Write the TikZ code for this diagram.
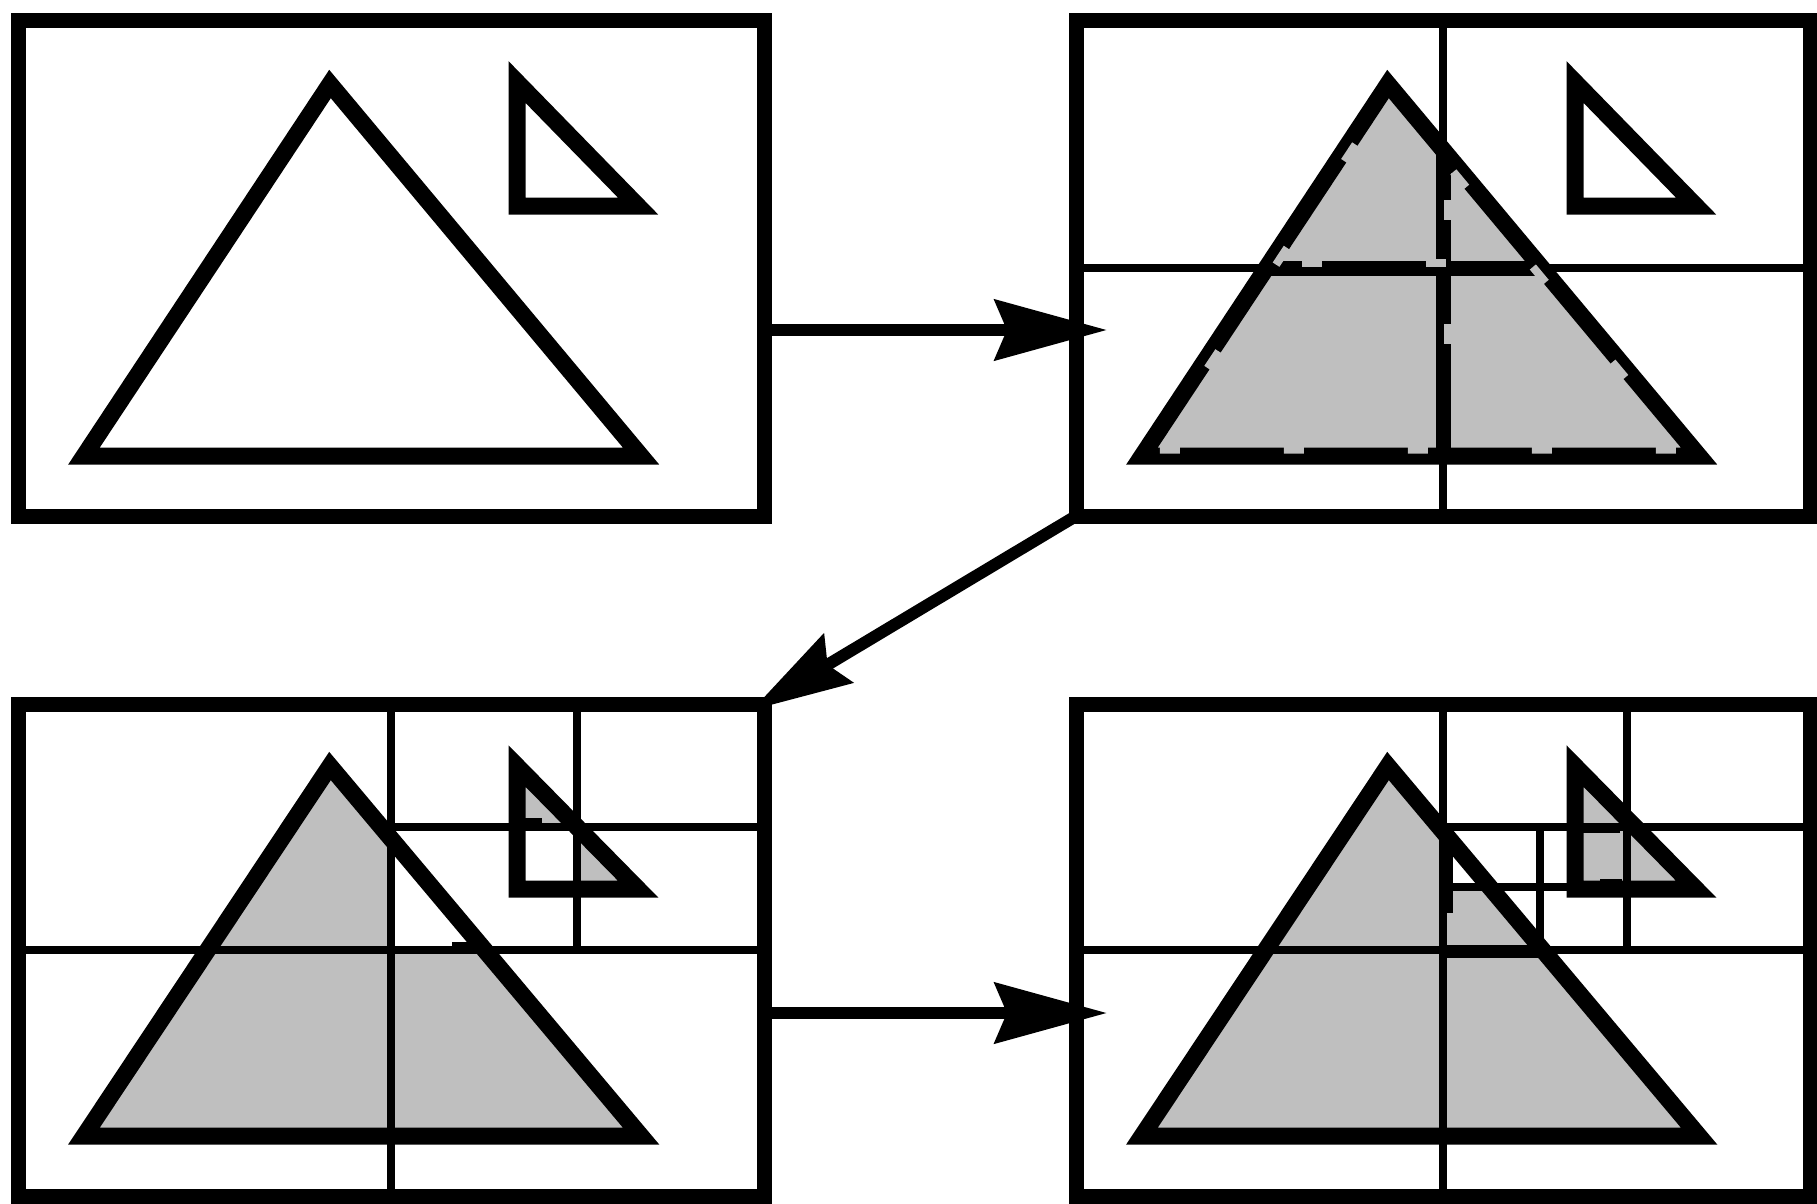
\documentclass[tikz,border=0pt]{standalone}
\usetikzlibrary{arrows.meta}
\begin{document}
\begin{tikzpicture}[x=1pt,y=-1pt,
  frame/.style={line width=15pt},
  gridline/.style={line width=8.5pt},
  tri/.style={line width=17pt, line join=miter},
  shade/.style={fill=black!25},
  notch/.style={draw=black!25, line width=8pt, dash pattern=on 20pt off 104pt},
  tabline/.style={line width=12pt},
  conn/.style={line width=12pt, -{Stealth[length=112pt,width=60pt,inset=12pt]}},
  panel/.style={inner sep=0pt, outer sep=0pt}]
\useasboundingbox (0,0) rectangle (1817,1203);
\fill[white] (0,0) rectangle (1817,1203);

% panel placeholders
\node[panel, minimum width=746pt, minimum height=496pt] (p1) at (391,268) {};
\node[panel, minimum width=734pt, minimum height=496pt] (p2) at (1443,268) {};
\node[panel, minimum width=746pt, minimum height=492pt] (p3) at (391,950) {};
\node[panel, minimum width=734pt, minimum height=492pt] (p4) at (1443,950) {};

% ---------- panel 1 ----------
\draw[tri] (330,84) -- (84,456) -- (641,456) -- cycle;
\draw[tri] (517,82) -- (517,206) -- (638,206) -- cycle;

% ---------- panel 2 ----------
\fill[shade] (1388,84) -- (1142,456) -- (1699,456) -- cycle;
\draw[gridline] (p2.north) -- (p2.south);
\draw[gridline] (p2.west) -- (p2.east);
\draw[line width=15pt] (1443,150) -- (1443,456);
\draw[line width=15pt] (1266,268) -- (1542,268);
\draw[tri] (1388,84) -- (1142,456) -- (1699,456) -- cycle;
\draw[notch, dash phase=-60pt, scale around={0.955:(1401,316.7)}]
  (1388,84) -- (1142,456) -- (1699,456) -- cycle;
\draw[notch, dash phase=-40pt] (1448,160) -- (1448,448);
\draw[notch, dash phase=-30pt] (1272,263) -- (1536,263);
\draw[tri] (1575,82) -- (1575,206) -- (1696,206) -- cycle;

% ---------- panel 3 ----------
\fill[shade] (330,766) -- (84,1136) -- (641,1136) -- cycle;
\fill[shade] (517,766) -- (517,889) -- (638,889) -- cycle;
\begin{scope}
  \clip (391,704) rectangle (764,950);
  \fill[white] (330,766) -- (84,1136) -- (641,1136) -- cycle;
\end{scope}
\begin{scope}
  \clip (391,827) rectangle (577,950);
  \fill[white] (517,766) -- (517,889) -- (638,889) -- cycle;
\end{scope}
\draw[gridline] (p3.north) -- (p3.south);
\draw[gridline] (p3.west) -- (p3.east);
\draw[gridline] (577,704) -- (577,950);
\draw[gridline] (391,827) -- (764,827);
\draw[tabline] (517,824) -- (542,824);
\draw[line width=8pt] (452,946) -- (475,946);
\draw[line width=7pt] (580,884) -- (603,884);
\draw[tri] (330,766) -- (84,1136) -- (641,1136) -- cycle;
\draw[tri] (517,766) -- (517,889) -- (638,889) -- cycle;

% ---------- panel 4 ----------
\fill[shade] (1388,766) -- (1142,1136) -- (1699,1136) -- cycle;
\fill[shade] (1575,766) -- (1575,889) -- (1696,889) -- cycle;
\begin{scope}
  \clip (1443,827) rectangle (1540,887);
  \fill[white] (1388,766) -- (1142,1136) -- (1699,1136) -- cycle;
\end{scope}
\draw[gridline] (p4.north) -- (p4.south);
\draw[gridline] (p4.west) -- (p4.east);
\draw[gridline] (1627,704) -- (1627,950);
\draw[gridline] (1443,827) -- (1810,827);
\draw[gridline] (1540,827) -- (1540,950);
\draw[gridline] (1443,887) -- (1627,887);
\draw[line width=13pt] (1446,832) -- (1446,913);
\draw[line width=13pt] (1443,951) -- (1545,951);
\draw[line width=8pt] (1578,829) -- (1620,829);
\draw[line width=8pt] (1600,883) -- (1622,883);
\draw[tri] (1388,766) -- (1142,1136) -- (1699,1136) -- cycle;
\draw[tri] (1575,766) -- (1575,889) -- (1696,889) -- cycle;

% ---------- frames ----------
\draw[frame] (p1.north west) rectangle (p1.south east);
\draw[frame] (p2.north west) rectangle (p2.south east);
\draw[frame] (p3.north west) rectangle (p3.south east);
\draw[frame] (p4.north west) rectangle (p4.south east);

% ---------- connectors ----------
\coordinate (a1s) at (764,330);
\coordinate (a1e) at (1107,330);
\coordinate (a2e) at (752,710);
\coordinate (a3s) at (764,1013);
\coordinate (a3e) at (1107,1013);
\draw[conn] (a1s) -- (a1e);
\draw[conn, -{Stealth[length=100pt,width=56pt,inset=12pt]}] (p2.south west) -- (a2e);
\draw[conn] (a3s) -- (a3e);
\end{tikzpicture}
\end{document}
